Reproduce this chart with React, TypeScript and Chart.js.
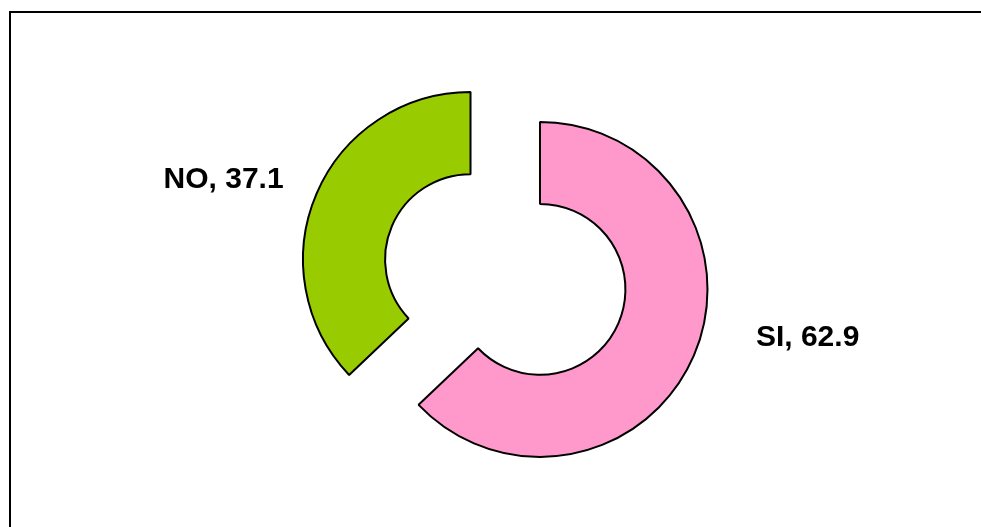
import React, { useEffect, useRef } from "react";
import { Chart, registerables } from "chart.js";

Chart.register(...registerables);

const categories = ["SI", "NO"];
const values = [62.9, 37.1];
const colors = ["#FF99CC", "#99CC00"];

const EXPLODE = 37.8;

const explodePlugin = {
  id: "explode",
  afterDatasetsUpdate(chart: any) {
    const meta = chart.getDatasetMeta(0);
    meta.data.forEach((el: any) => {
      const mid = (el.startAngle + el.endAngle) / 2;
      el.x += Math.cos(mid) * EXPLODE;
      el.y += Math.sin(mid) * EXPLODE;
    });
  },
};

// per-label placement relative to the outer point of the slice's mid-angle
const labelPlacement = [
  { dx: 62, dy: -9, align: "left" },
  { dx: -33, dy: -6, align: "right" },
];

const labelPlugin = {
  id: "sliceLabels",
  afterDatasetsDraw(chart: any) {
    const ctx = chart.ctx;
    const meta = chart.getDatasetMeta(0);
    ctx.save();
    ctx.font = 'bold 30px Arial, "Liberation Sans", sans-serif';
    ctx.fillStyle = "#000";
    ctx.textBaseline = "alphabetic";
    meta.data.forEach((el: any, i: number) => {
      const mid = (el.startAngle + el.endAngle) / 2;
      const ax = el.x + Math.cos(mid) * el.outerRadius;
      const ay = el.y + Math.sin(mid) * el.outerRadius;
      const p = labelPlacement[i];
      ctx.textAlign = p.align;
      const txt = `${categories[i]}, ${values[i].toFixed(1)}`;
      ctx.fillText(txt, ax + p.dx, ay + p.dy);
    });
    ctx.restore();
  },
};

export default function App() {
  const ref = useRef<HTMLCanvasElement | null>(null);
  useEffect(() => {
    if (!ref.current) return;
    const chart = new Chart(ref.current, {
      type: "doughnut",
      data: {
        labels: categories,
        datasets: [
          {
            data: values,
            backgroundColor: colors,
            borderColor: "#000000",
            borderWidth: 2,
            hoverOffset: 0,
          },
        ],
      },
      options: {
        responsive: false,
        animation: false,
        radius: 167.5,
        cutout: "51%",
        layout: { padding: { left: 29.5, top: 22, right: 0, bottom: 0 } },
        plugins: {
          legend: { display: false },
          tooltip: { enabled: false },
        },
        events: [],
      } as any,
      plugins: [explodePlugin, labelPlugin],
    });
    return () => chart.destroy();
  }, []);

  return (
    <div
      style={{
        position: "fixed",
        left: 0,
        top: 0,
        width: 981,
        height: 527,
        overflow: "hidden",
        background: "#fff",
      }}
    >
      <div
        style={{
          position: "absolute",
          left: 9,
          top: 11,
          width: 1200,
          height: 800,
          border: "2px solid #000",
        }}
      />
      <canvas
        ref={ref}
        width={981}
        height={527}
        style={{ position: "absolute", left: 0, top: 0, width: 981, height: 527 }}
      />
    </div>
  );
}
